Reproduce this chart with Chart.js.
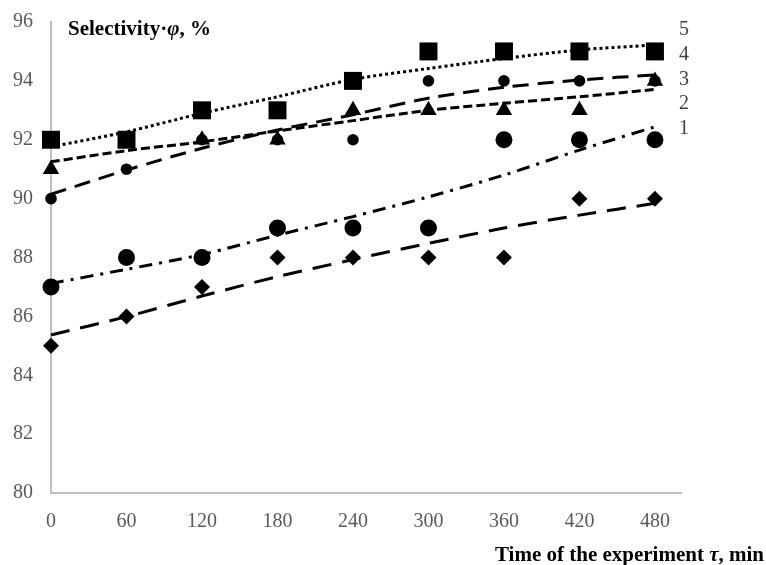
<!DOCTYPE html>
<html>
<head>
<meta charset="utf-8">
<script src="https://cdn.jsdelivr.net/npm/chart.js@4/dist/chart.umd.min.js"></script>
<style>
html,body{margin:0;padding:0;background:#fff;}
#wrap{width:766px;height:565px;position:relative;}
</style>
</head>
<body>
<div id="wrap"><canvas id="c"></canvas></div>
<script>
// ---- data ----
const times = [0, 60, 120, 180, 240, 300, 360, 420, 480];
const xTicks = [0, 60, 120, 180, 240, 300, 360, 420, 480];
const yTicks = [80, 82, 84, 86, 88, 90, 92, 94, 96];

const diamonds     = [85, 86, 87, 88, 88, 88, 88, 90, 90];
const bigCircles   = [87, 88, 88, 89, 89, 89, 92, 92, 92];
const triangles    = [91, 92, 92, 92, 93, 93, 93, 93, 94];
const smallCircles = [90, 91, 92, 92, 92, 94, 94, 94, 94];
const squares      = [92, 92, 93, 93, 94, 95, 95, 95, 95];

// trend lines (at each time)
const trendDiamonds     = [85.37, 85.99, 86.69, 87.35, 87.93, 88.48, 89.00, 89.44, 89.84];
const trendBigCircles   = [87.12, 87.60, 88.10, 88.76, 89.39, 90.06, 90.80, 91.65, 92.44];
const trendTriangles    = [91.25, 91.63, 91.93, 92.30, 92.65, 93.00, 93.24, 93.46, 93.71];
const trendSmallCircles = [90.15, 90.97, 91.71, 92.33, 92.85, 93.41, 93.78, 94.03, 94.20];
const trendSquares      = [91.76, 92.27, 92.90, 93.46, 94.05, 94.42, 94.76, 95.05, 95.22];

const curveLabels = ['5', '4', '3', '2', '1'];
const yTitleParts = [['Selectivity·', false], ['φ', true], [', %', false]];
const xTitleParts = [['Time of the experiment ', false], ['τ', true], [', min', false]];

// ---- build ----
const pts = arr => times.map((t, i) => ({x: t, y: arr[i]}));

function markerSet(arr, style, r) {
  return {
    data: pts(arr), showLine: false, pointStyle: style, pointRadius: r, pointHoverRadius: r,
    pointBackgroundColor: '#000', pointBorderColor: '#000', pointBorderWidth: 0, order: 1, clip: false
  };
}
function trendSet(arr, dash) {
  return {
    data: pts(arr), showLine: true, pointRadius: 0, pointHoverRadius: 0,
    borderColor: '#000', borderWidth: 3, borderDash: dash, borderCapStyle: 'butt',
    tension: 0.3, fill: false, order: 2, clip: false
  };
}

const serif = '"Liberation Serif", "Times New Roman", serif';

const textPlugin = {
  id: 'texts',
  afterDraw(chart) {
    const ctx = chart.ctx, a = chart.chartArea;
    ctx.save();
    ctx.fillStyle = '#000';
    ctx.textBaseline = 'alphabetic';
    ctx.textAlign = 'left';
    const drawParts = (parts, x, y) => {
      parts.forEach(([s, it]) => {
        ctx.font = (it ? 'italic ' : '') + 'bold 21px ' + serif;
        ctx.fillText(s, x, y);
        x += ctx.measureText(s).width;
      });
    };
    const partsWidth = parts => parts.reduce((w, [s, it]) => {
      ctx.font = (it ? 'italic ' : '') + 'bold 21px ' + serif;
      return w + ctx.measureText(s).width;
    }, 0);
    drawParts(yTitleParts, a.left + 17, a.top + 13);
    drawParts(xTitleParts, 764 - partsWidth(xTitleParts), 561);
    ctx.font = '20px ' + serif;
    ctx.fillStyle = '#404040';
    curveLabels.forEach((s, i) => {
      ctx.fillText(s, a.right - 2, a.top + 13 + i * 24.8);
    });
    ctx.restore();
  }
};

new Chart(document.getElementById('c'), {
  type: 'scatter',
  data: {
    datasets: [
      markerSet(squares, 'rect', 12.7),
      markerSet(triangles, 'triangle', 9.5),
      markerSet(smallCircles, 'circle', 5.8),
      markerSet(bigCircles, 'circle', 8.5),
      markerSet(diamonds, 'rectRot', 8),
      trendSet(trendSquares, [3, 3]),
      trendSet(trendTriangles, [9, 4]),
      trendSet(trendSmallCircles, [16, 9]),
      trendSet(trendBigCircles, [13, 7, 3, 7]),
      trendSet(trendDiamonds, [19, 11])
    ]
  },
  options: {
    responsive: true,
    maintainAspectRatio: false,
    animation: false,
    layout: {autoPadding: false, padding: {left: 0, right: 85, top: 22, bottom: 0}},
    plugins: {legend: {display: false}, tooltip: {enabled: false}, title: {display: false}},
    scales: {
      x: {
        type: 'linear', min: 0, max: 500.7,
        afterBuildTicks: s => { s.ticks = xTicks.map(v => ({value: v})); },
        afterFit: s => { s.height = 72; s.paddingLeft = 0; s.paddingRight = 0; },
        grid: {display: true, drawOnChartArea: false, drawTicks: false},
        border: {display: true, color: '#bfbfbf', width: 2},
        ticks: {color: '#595959', font: {family: serif, size: 20}, padding: 17, maxRotation: 0}
      },
      y: {
        type: 'linear', min: 80, max: 96,
        afterBuildTicks: s => { s.ticks = yTicks.map(v => ({value: v})); },
        afterFit: s => { s.width = 51; s.paddingTop = 0; s.paddingBottom = 0; },
        grid: {display: true, drawOnChartArea: false, drawTicks: false},
        border: {display: true, color: '#bfbfbf', width: 2},
        ticks: {color: '#595959', font: {family: serif, size: 20}, padding: 18}
      }
    }
  },
  plugins: [textPlugin]
});
</script>
</body>
</html>
